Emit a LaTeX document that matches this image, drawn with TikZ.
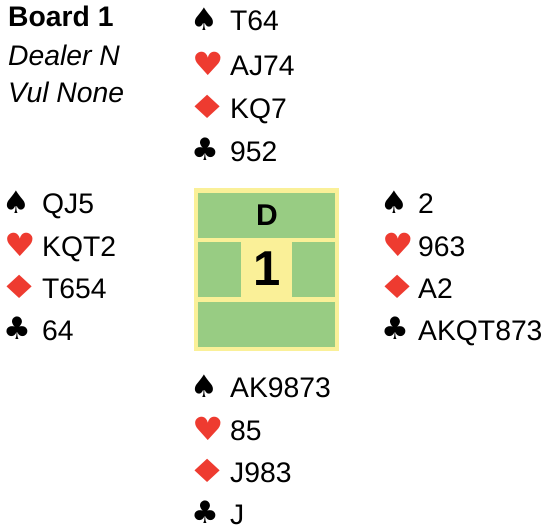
\documentclass[tikz,border=0pt]{standalone}
\usepackage{fontspec}
\setmainfont{Liberation Sans}
\newfontfamily\suitfont{DejaVu Sans}
\definecolor{BoardGreen}{HTML}{98CC83}
\definecolor{BoardYellow}{HTML}{FAF098}
\definecolor{SuitRed}{HTML}{EE3B30}
\newcommand{\cardsize}{\fontsize{28.3}{34}\selectfont}
\tikzset{
  holding/.style={anchor=base west,inner sep=0pt,font=\cardsize},
  suitsym/.style={anchor=base,inner sep=0pt,font=\suitfont\fontsize{31}{36}\selectfont},
  spadesym/.style={suitsym},
  heartsym/.style={suitsym,text=SuitRed,font=\suitfont\fontsize{32}{38}\selectfont,xscale=1.1},
  diamsym/.style={suitsym,text=SuitRed,font=\suitfont\fontsize{32}{38}\selectfont,xscale=1.4},
  clubsym/.style={suitsym},
  panel/.style={fill=BoardGreen},
}
\begin{document}
\begin{tikzpicture}[x=1pt,y=-1pt]
  \useasboundingbox (0,0) rectangle (549,530);
  % board info
  \node[holding,font=\cardsize\bfseries] (board) at (8,27) {Board 1};
  \node[holding,font=\cardsize\itshape] (dealer) at (8,65) {Dealer N};
  \node[holding,font=\cardsize\itshape] (vul) at (8,102) {Vul None};
  % north
  \node[spadesym] (nSs) at (204.5,30) {♠};
  \node[holding] (nS) at (230,30) {T64};
  \node[heartsym] (nHs) at (208,75) {♥};
  \node[holding] (nH) at (230,75) {AJ74};
  \node[diamsym] (nDs) at (207.5,118) {♦};
  \node[holding] (nD) at (230,118) {KQ7};
  \node[clubsym] (nCs) at (205.5,160) {♣};
  \node[holding] (nC) at (230,161) {952};
  % west
  \node[spadesym] (wSs) at (16.5,213) {♠};
  \node[holding] (wS) at (42,213) {QJ5};
  \node[heartsym] (wHs) at (20,256) {♥};
  \node[holding] (wH) at (42,256) {KQT2};
  \node[diamsym] (wDs) at (19.5,298) {♦};
  \node[holding] (wD) at (42,298) {T654};
  \node[clubsym] (wCs) at (17.5,339) {♣};
  \node[holding] (wC) at (42,340) {64};
  % east
  \node[spadesym] (eSs) at (394.5,213) {♠};
  \node[holding] (eS) at (418,213) {2};
  \node[heartsym] (eHs) at (398,256) {♥};
  \node[holding] (eH) at (418,256) {963};
  \node[diamsym] (eDs) at (397.5,298) {♦};
  \node[holding] (eD) at (418,298) {A2};
  \node[clubsym] (eCs) at (395.5,339) {♣};
  \node[holding] (eC) at (418,340) {AKQT873};
  % south
  \node[spadesym] (sSs) at (204.5,397) {♠};
  \node[holding] (sS) at (230,397) {AK9873};
  \node[heartsym] (sHs) at (208,440) {♥};
  \node[holding] (sH) at (230,440) {85};
  \node[diamsym] (sDs) at (207.5,482) {♦};
  \node[holding] (sD) at (230,482) {J983};
  \node[clubsym] (sCs) at (205.5,523) {♣};
  \node[holding] (sC) at (230,524) {J};
  % compass box
  \fill[BoardYellow] (194,188) rectangle (339,351);
  \fill[panel] (198,193) rectangle (335,238);
  \fill[panel] (198,242) rectangle (241,297);
  \fill[panel] (292,242) rectangle (335,297);
  \fill[panel] (198,302) rectangle (335,347);
  \node[anchor=base,inner sep=0pt,font=\fontsize{30}{36}\selectfont\bfseries] (dlr) at (267,225) {D};
  \node[anchor=base,inner sep=0pt,font=\fontsize{49}{58}\selectfont\bfseries] (num) at (267,285) {1};
\end{tikzpicture}
\end{document}
